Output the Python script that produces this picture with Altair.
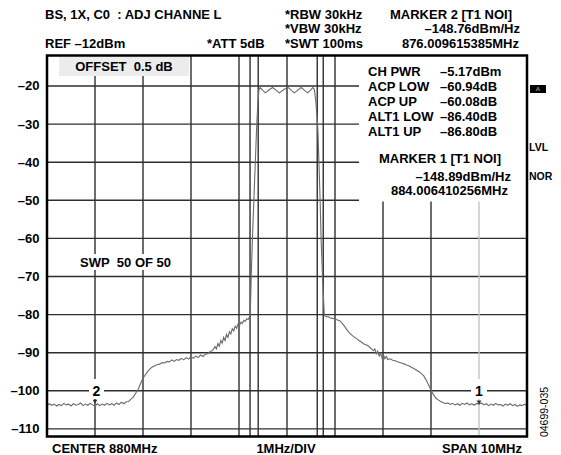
import altair as alt
import pandas as pd

FONT = "Liberation Sans"

# ---------------- data ----------------
freq = [-5.0, -4.95, -4.9, -4.85, -4.8, -4.75, -4.7, -4.65, -4.6, -4.55, -4.5, -4.45, -4.4, -4.35,
        -4.3, -4.25, -4.2, -4.15, -4.1, -4.05, -4.0, -3.95, -3.9, -3.85, -3.8, -3.75, -3.7, -3.65,
        -3.6, -3.55, -3.5, -3.45, -3.4, -3.35, -3.3, -3.25, -3.2, -3.15, -3.1, -3.05, -3.0, -2.95,
        -2.9, -2.85, -2.8, -2.75, -2.7, -2.65, -2.6, -2.55, -2.5, -2.45, -2.4, -2.35, -2.3, -2.25,
        -2.2, -2.15, -2.1, -2.05, -2.0, -1.95, -1.9, -1.85, -1.8, -1.75, -1.7, -1.65, -1.6, -1.55,
        -1.5, -1.47, -1.44, -1.41, -1.38, -1.35, -1.32, -1.29, -1.26, -1.23, -1.2, -1.17, -1.14,
        -1.11, -1.08, -1.05, -1.02, -0.99, -0.96, -0.93, -0.9, -0.87, -0.84, -0.81, -0.78,
        -0.765, -0.745, -0.72, -0.69, -0.66, -0.63, -0.605, -0.585, -0.56, -0.5, -0.45, -0.37,
        -0.3, -0.23, -0.16, -0.07, 0.015, 0.085, 0.155, 0.225, 0.295, 0.36, 0.43, 0.49, 0.54,
        0.57, 0.6, 0.625, 0.645, 0.665, 0.69, 0.71, 0.74, 0.775,
        0.78, 0.82, 0.86, 0.9, 0.95, 1.0, 1.05, 1.1, 1.15, 1.2, 1.25, 1.3, 1.35, 1.4, 1.45, 1.5,
        1.55, 1.6, 1.65, 1.7, 1.75, 1.8, 1.83, 1.86, 1.89, 1.92, 1.95, 1.98, 2.01, 2.04, 2.07,
        2.1, 2.15, 2.2, 2.25, 2.3, 2.35, 2.4, 2.45, 2.5, 2.55, 2.6, 2.65, 2.7, 2.75, 2.8, 2.85,
        2.9, 2.95, 3.0, 3.05, 3.1, 3.15, 3.2, 3.25, 3.3, 3.35, 3.4, 3.45, 3.5, 3.55, 3.6, 3.65,
        3.7, 3.75, 3.8, 3.85, 3.9, 3.95, 4.0, 4.05, 4.1, 4.15, 4.2, 4.25, 4.3, 4.35, 4.4, 4.45,
        4.5, 4.55, 4.6, 4.65, 4.7, 4.75, 4.8, 4.85, 4.9, 4.95, 5.0]
level = [-103.9, -103.4, -103.8, -103.5, -104.0, -103.6, -103.9, -103.3, -103.7, -103.5, -104.0,
         -103.4, -103.8, -103.6, -103.2, -103.9, -103.5, -103.8, -103.3, -103.7, -104.0, -103.4,
         -103.9, -103.5, -103.8, -103.3, -103.7, -103.4, -103.8, -103.2, -103.6, -103.0, -103.4,
         -102.9, -102.8, -102.2, -101.6, -100.6, -99.6, -98.1, -96.7, -95.8, -94.9, -94.2, -93.7,
         -93.4, -93.1, -93.0, -92.6, -92.7, -92.3, -92.4, -91.9, -92.3, -91.8, -92.0, -91.5, -91.9,
         -91.3, -91.7, -91.0, -91.5, -90.9, -91.3, -90.6, -91.0, -90.4, -90.3, -89.7, -89.4, -88.4,
         -89.0, -87.6, -88.3, -86.8, -87.5, -86.0, -86.8, -85.2, -86.0, -84.5, -85.1, -83.7, -84.3,
         -83.0, -83.6, -82.5, -82.9, -82.0, -82.3, -81.5, -81.8, -81.1, -81.3, -80.6,
         -80.0, -70.0, -60.0, -50.0, -40.0, -30.0, -24.0, -21.0, -20.4, -21.2, -21.8, -21.0,
         -20.4, -21.1, -21.8, -21.0, -20.3, -21.1, -21.8, -21.1, -20.4, -21.1, -21.8, -21.1, -20.4,
         -21.0, -24.0, -28.0, -32.0, -40.0, -50.0, -60.0, -70.0, -79.8,
         -80.2, -80.6, -80.5, -80.9, -81.0, -81.1, -81.4, -81.6, -82.3, -83.1, -84.0, -84.8, -85.4,
         -85.9, -86.3, -86.8, -87.2, -87.7, -87.9, -88.3, -88.9, -89.5, -89.0, -90.3, -89.6, -90.9,
         -90.2, -91.4, -90.6, -91.6, -91.0, -91.8, -91.6, -92.0, -92.1, -92.4, -92.6, -92.8, -93.0,
         -93.3, -93.5, -93.9, -94.2, -94.6, -95.0, -95.5, -96.1, -97.2, -98.5, -99.8, -101.0,
         -101.9, -102.4, -102.8, -103.1, -103.4, -103.2, -103.6, -103.3, -103.7, -103.4, -103.8,
         -103.3, -103.6, -103.2, -103.7, -103.4, -103.8, -103.3, -103.5, -103.2, -103.7, -103.4,
         -103.9, -103.5, -103.8, -103.3, -103.7, -103.6, -104.0, -103.5, -103.8, -103.4, -103.9,
         -103.6, -104.1, -103.7, -103.9, -103.5, -104.0]

hgrid = [-110, -100, -90, -80, -70, -60, -50, -40, -30, -20]
vgrid = [-4, -3, -2, -1, 0, 1, 2, 3]
chan_lines = [-0.77, -0.6, 0.63, 0.755]
marker1_line = [4.0]
marker_freq = [-4.0, 4.0]
marker_level = [-102.9, -103.1]
marker_names = ["2", "1"]

# ---------------- layout helpers (page pixel -> data coords) ----------------
X0, PXM = 47.0, 48.0
Y0, PXD = 55.5, 3.81


def fx(px):
    return -5 + (px - X0) / PXM


def fy(py):
    return -12 - (py - Y0) / PXD


xs = alt.Scale(domain=[-5, 5], nice=False, zero=False)
ys = alt.Scale(domain=[-112, -12], nice=False, zero=False)
yaxis = alt.Axis(values=hgrid, labelExpr="'–' + abs(datum.value)", ticks=False, domain=False,
                 grid=False, labelFont=FONT, labelFontSize=13, labelFontWeight="bold",
                 labelColor="black", labelPadding=8, title=None)


def X(f):
    return alt.X(f, type="quantitative", scale=xs, axis=None)


def Y(f):
    return alt.Y(f, type="quantitative", scale=ys, axis=yaxis)


GRID = "#2e2e2e"

hg = alt.Chart(pd.DataFrame({"v": hgrid})).mark_rule(color=GRID, strokeWidth=1.4).encode(y=Y("v"))
vg = alt.Chart(pd.DataFrame({"v": vgrid + chan_lines})).mark_rule(color=GRID, strokeWidth=1.4).encode(x=X("v"))
m1 = alt.Chart(pd.DataFrame({"v": marker1_line})).mark_rule(color="#c4c4c4", strokeWidth=1.4).encode(x=X("v"))

boxes = pd.DataFrame({
    "x": [fx(59), fx(78), fx(359), fx(89), fx(471)],
    "x2": [fx(189), fx(174), fx(527), fx(104), fx(487)],
    "y": [fy(56), fy(254), fy(56), fy(379), fy(379)],
    "y2": [fy(76), fy(270), fy(201.5), fy(399), fy(399)],
    "fill": ["#ececec", "white", "white", "white", "white"],
})
box_layer = alt.Chart(boxes).mark_rect().encode(
    x=X("x"), x2="x2", y=Y("y"), y2="y2", color=alt.Color("fill:N", scale=None))

trace = alt.Chart(pd.DataFrame({"f": freq, "l": level})).mark_line(
    color="#6a6a6a", strokeWidth=1.1).encode(x=X("f"), y=Y("l"), order="f:Q")

tri = alt.Chart(pd.DataFrame({"f": marker_freq, "l": marker_level})).mark_point(
    shape="triangle-down", filled=True, size=22, color="#333", opacity=1).encode(x=X("f"), y=Y("l"))

frame = alt.Chart(pd.DataFrame({"x": [-5], "x2": [5], "y": [-112], "y2": [-12]})).mark_rect(
    fill=None, stroke="black", strokeWidth=2.5).encode(x=X("x"), x2="x2", y=Y("y"), y2="y2")

icon = alt.Chart(pd.DataFrame({"x": [fx(530)], "x2": [fx(546)], "y": [fy(85)], "y2": [fy(93)]})).mark_rect(
    color="black").encode(x=X("x"), x2="x2", y=Y("y"), y2="y2")


def texts(items, align="left", size=13, weight="bold", baseline="alphabetic", angle=0, color="black"):
    df = pd.DataFrame({"t": [i[0] for i in items], "x": [fx(i[1]) for i in items],
                       "y": [fy(i[2]) for i in items]})
    return alt.Chart(df).mark_text(align=align, baseline=baseline, font=FONT, fontSize=size,
                                   fontWeight=weight, angle=angle, color=color).encode(
        x=X("x"), y=Y("y"), text="t:N")


left_items = [
    ("BS, 1X, C0\u00a0\u00a0: ADJ CHANNE L", 45, 18.5),
    ("*RBW 30kHz", 285, 18.5),
    ("MARKER 2 [T1 NOI]", 390, 18.5),
    ("*VBW 30kHz", 285, 33),
    ("REF –12dBm", 45, 48),
    ("*ATT 5dB", 207, 48),
    ("*SWT 100ms", 285, 48),
    ("CH PWR", 368, 76.4), ("ACP LOW", 368, 91.4), ("ACP UP", 368, 106.4),
    ("ALT1 LOW", 368, 121.4), ("ALT1 UP", 368, 136.4),
    ("–5.17dBm", 440, 76.4), ("–60.94dB", 440, 91.4), ("–60.08dB", 440, 106.4),
    ("–86.40dB", 440, 121.4), ("–86.80dB", 440, 136.4),
    ("CENTER 880MHz", 52, 452.6),
]
side_items = [("LVL", 529, 151.4), ("NOR", 529, 180.4)]
right_items = [
    ("–148.76dBm/Hz", 520, 33),
    ("876.009615385MHz", 519, 48),
    ("–148.89dBm/Hz", 511, 180.5),
    ("884.006410256MHz", 508, 194.6),
    ("SPAN 10MHz", 522, 452.6),
]
center_items = [
    ("OFFSET\u00a0\u00a00.5 dB", 124, 70.5),
    ("SWP\u00a0\u00a050 OF 50", 125.5, 266.5),
    ("MARKER 1 [T1 NOI]", 440, 162.7),
    ("1MHz/DIV", 286, 452.6),
]
marker_items = [(marker_names[0], 96.5, 396), (marker_names[1], 479, 396)]

chart = alt.layer(
    hg, vg, m1, box_layer, trace, tri, frame, icon,
    texts(left_items, "left"),
    texts(side_items, "left", size=10.5),
    texts(right_items, "right"),
    texts(center_items, "center"),
    texts(marker_items, "center", size=14),
    texts([("04699-035", 545, 412)], "center", size=10.5, weight="normal", baseline="middle", angle=270),
    texts([("A", 538, 89)], "center", size=6, baseline="middle", color="#9a9a9a"),
).properties(
    width=480, height=381,
    autosize=alt.AutoSizeParams(type="none"),
    padding={"left": 39, "top": 47.5, "right": 26, "bottom": 18.5},
    background="white",
).configure_view(stroke=None)

chart.save("out.html", embed_options={"renderer": "svg", "actions": False})
